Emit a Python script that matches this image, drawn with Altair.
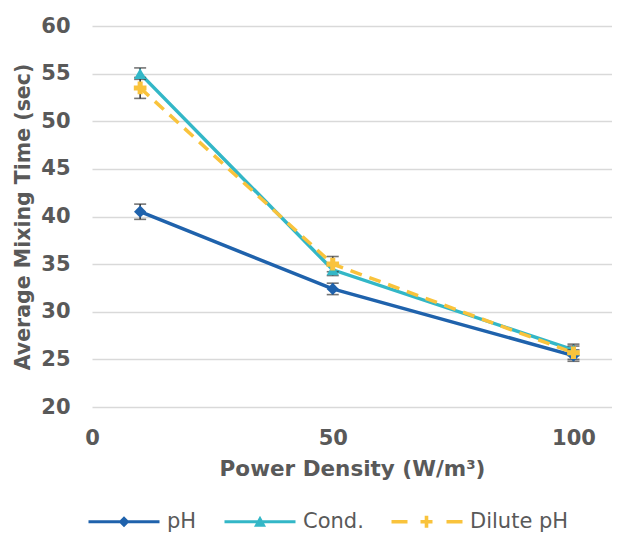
import altair as alt
import pandas as pd

# ---- data ----
power = [10, 50, 100]
series_names = ["pH", "Cond.", "Dilute pH"]
ph_time = [40.5, 32.4, 25.4]
cond_time = [55.0, 34.4, 26.0]
dilute_time = [53.5, 35.0, 25.7]
ph_err = [0.8, 0.6, 0.6]
cond_err = [0.6, 0.6, 0.6]
dilute_err = [1.1, 0.8, 0.7]
x_ticks = [0, 50, 100]
y_ticks = [20, 25, 30, 35, 40, 45, 50, 55, 60]

colors = ["#1F62AC", "#33B7C7", "#F9C33C"]
# legend symbols (line + marker), drawn in pixel units (symbolSize=4 -> scale 1)
legend_paths = [
    "M0,-1.6H71V1.6H0Z M35.5,-5.5L41,0L35.5,5.5L30,0Z",
    "M0,-1.6H71V1.6H0Z M35.5,-6L41.5,5L29.5,5Z",
    "M0,-1.8H16V1.8H0Z M29,-1.8H41V1.8H29Z M33.2,-6H36.8V6H33.2Z M55,-1.8H71V1.8H55Z",
]

rows = []
for name, vals, errs in zip(series_names, [ph_time, cond_time, dilute_time],
                            [ph_err, cond_err, dilute_err]):
    for x, v, e in zip(power, vals, errs):
        rows.append({"power": x, "time": v, "series": name, "lo": v - e, "hi": v + e})
df = pd.DataFrame(rows)

FONT = "DejaVu Sans"
GREY = "#595959"

x_axis = alt.Axis(values=x_ticks, title="Power Density (W/m³)", grid=False, domain=False,
                  ticks=False, tickSize=0, labelFlush=False, labelFont=FONT, labelFontSize=21,
                  labelFontWeight="bold", labelColor=GREY, labelPadding=20,
                  titleFont=FONT, titleFontSize=21.5, titleFontWeight="bold", titleColor=GREY,
                  titlePadding=10)
y_axis = alt.Axis(values=y_ticks, title="Average Mixing Time (sec)", grid=True,
                  gridColor="#D9D9D9", gridWidth=1.3, domain=False, ticks=False, tickSize=0,
                  labelFont=FONT, labelFontSize=21, labelFontWeight="bold", labelColor=GREY,
                  labelPadding=22, titleFont=FONT, titleFontSize=20.5, titleFontWeight="bold",
                  titleColor=GREY, titlePadding=7)
x_scale = alt.Scale(domain=[0, 108], nice=False, zero=False)
y_scale = alt.Scale(domain=[20, 60], nice=False, zero=False)
color_scale = alt.Scale(domain=series_names, range=colors)

leg = alt.Legend(title=None, orient="none", legendX=-14, legendY=485, direction="horizontal",
                 columns=3, columnPadding=17, labelOffset=68, symbolSize=4,
                 symbolStrokeWidth=0, symbolOpacity=1, padding=0, labelFont=FONT,
                 labelFontSize=21, labelColor=GREY)

X = alt.X("power:Q", scale=x_scale, axis=x_axis, title="Power Density (W/m³)")
Y = alt.Y("time:Q", scale=y_scale, axis=y_axis, title="Average Mixing Time (sec)")
C = alt.Color("series:N", scale=color_scale, legend=leg)

base = alt.Chart(df)

solid_lines = base.transform_filter(alt.datum.series != "Dilute pH").mark_line(
    strokeWidth=3.5).encode(x=X, y=Y, color=C)
dashed_line = base.transform_filter(alt.datum.series == "Dilute pH").mark_line(
    strokeWidth=3.5, strokeDash=[12, 8]).encode(x=X, y=Y, color=C)

errbars = base.mark_errorbar(ticks={"size": 12}, color="#3A3A3A", thickness=1.6).encode(
    x=X,
    y=alt.Y("lo:Q", scale=y_scale, axis=y_axis, title="Average Mixing Time (sec)"),
    y2="hi:Q",
)

marker_shapes = ["diamond", "triangle-up", "cross"]
marker_sizes = [150, 150, 160]
markers = []
for name, shp, sz in zip(series_names, marker_shapes, marker_sizes):
    markers.append(
        base.transform_filter(alt.datum.series == name)
        .mark_point(shape=shp, filled=True, size=sz, opacity=1)
        .encode(x=X, y=Y, color=C)
    )

legend_layer = base.mark_point(filled=True, size=0, opacity=0).encode(
    x=X, y=Y, color=C,
    shape=alt.Shape("series:N", scale=alt.Scale(domain=series_names, range=legend_paths),
                    legend=leg),
)

chart = alt.layer(solid_lines, dashed_line, errbars, *markers, legend_layer).properties(
    width=520, height=381,
    autosize=alt.AutoSizeParams(type="none"),
    padding={"left": 84, "top": 18, "right": 0, "bottom": 126},
    background="white",
).configure_view(stroke=None)

chart.save("out.html", embed_options={"renderer": "svg", "actions": False})
